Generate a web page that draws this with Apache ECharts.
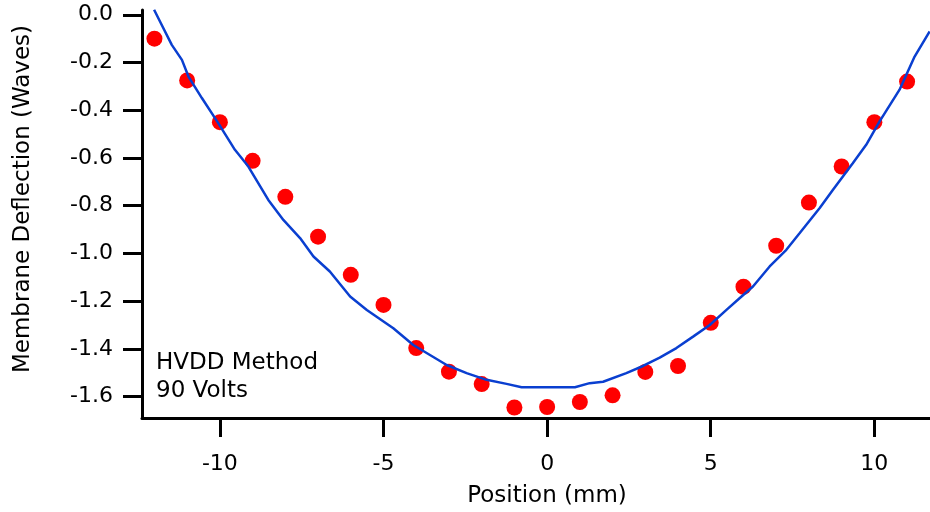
<!DOCTYPE html>
<html>
<head>
<meta charset="utf-8">
<script src="https://cdn.jsdelivr.net/npm/echarts@6/dist/echarts.min.js"></script>
<style>
html,body{margin:0;padding:0;background:#fff;}
#chart{width:930px;height:512px;}
</style>
</head>
<body>
<div id="chart"></div>
<script>
// Measured points (red dots)
const dotX = [-12,-11,-10,-9,-8,-7,-6,-5,-4,-3,-2,-1,0,1,2,3,4,5,6,7,8,9,10,11];
const dotY = [-0.10,-0.275,-0.45,-0.612,-0.763,-0.93,-1.09,-1.216,-1.397,-1.496,-1.548,-1.646,-1.644,-1.623,-1.595,-1.497,-1.472,-1.291,-1.14,-0.968,-0.787,-0.636,-0.45,-0.28];

// Fitted curve (blue line)
const lineX = [-12.01,-11.83,-11.47,-11.16,-10.96,-10.55,-10.05,-9.54,-9.13,-8.52,-8.06,-7.55,-7.14,-6.64,-6.02,-5.51,-4.70,-4.09,-3.58,-3.07,-2.46,-1.85,-1.24,-0.78,0.39,0.85,1.30,1.71,2.42,2.93,3.44,3.95,4.46,4.97,5.48,5.88,6.29,6.80,7.31,7.72,8.33,8.73,9.34,9.75,10.16,10.77,11.23,11.69];
const lineY = [0.021,-0.028,-0.126,-0.189,-0.259,-0.349,-0.454,-0.566,-0.636,-0.776,-0.860,-0.936,-1.013,-1.076,-1.181,-1.237,-1.314,-1.384,-1.426,-1.468,-1.502,-1.530,-1.547,-1.561,-1.561,-1.561,-1.544,-1.538,-1.502,-1.472,-1.437,-1.397,-1.349,-1.300,-1.237,-1.188,-1.139,-1.055,-0.985,-0.915,-0.810,-0.734,-0.622,-0.545,-0.447,-0.314,-0.175,-0.070];

const xTicks = [-10,-5,0,5,10];
const yTicks = [0,-0.2,-0.4,-0.6,-0.8,-1.0,-1.2,-1.4,-1.6];

const xName = 'Position (mm)';
const yName = 'Membrane Deflection (Waves)';
const noteLines = ['HVDD Method','90 Volts'];

const FONT = '"DejaVu Sans", sans-serif';

const chart = echarts.init(document.getElementById('chart'), null, {renderer:'canvas'});
const option = {
  backgroundColor:'#fff',
  animation:false,
  grid:{left:142,right:0,top:10,bottom:94,containLabel:false},
  xAxis:{
    type:'value', min:-12.38, max:11.7,
    axisLine:{show:true,onZero:false,lineStyle:{color:'#000',width:3}},
    axisTick:{show:true,inside:false,length:19,lineStyle:{color:'#000',width:3},customValues:xTicks},
    axisLabel:{show:true,margin:35,color:'#000',fontSize:22,fontFamily:FONT,customValues:xTicks,
      formatter:v=>String(v)},
    splitLine:{show:false}
  },
  yAxis:{
    type:'value', min:-1.69, max:0.02,
    axisLine:{show:true,onZero:false,lineStyle:{color:'#000',width:3}},
    axisTick:{show:true,inside:false,length:19,lineStyle:{color:'#000',width:3},customValues:yTicks},
    axisLabel:{show:true,margin:29,color:'#000',fontSize:22,fontFamily:FONT,customValues:yTicks,
      formatter:v=>Number(v).toFixed(1)},
    splitLine:{show:false}
  },
  series:[
    {type:'scatter',data:dotX.map((x,i)=>[x,dotY[i]]),symbol:'circle',symbolSize:16,
     itemStyle:{color:'#ff0000',opacity:1},z:2,clip:true},
    {type:'line',data:lineX.map((x,i)=>[x,lineY[i]]),showSymbol:false,symbol:'none',
     lineStyle:{color:'#0a3fd0',width:2.5},z:3,clip:true,smooth:false}
  ],
  graphic:[
    {type:'text',x:547,y:496,style:{text:xName,fontSize:23,fontFamily:FONT,fill:'#000',align:'center',verticalAlign:'middle'}},
    {type:'text',x:23,y:199,rotation:Math.PI/2,style:{text:yName,fontSize:23,fontFamily:FONT,fill:'#000',align:'center',verticalAlign:'middle'}},
    {type:'text',x:156,y:363,style:{text:noteLines[0],fontSize:23,fontFamily:FONT,fill:'#000',align:'left',verticalAlign:'middle'}},
    {type:'text',x:156,y:391,style:{text:noteLines[1],fontSize:23,fontFamily:FONT,fill:'#000',align:'left',verticalAlign:'middle'}}
  ]
};
chart.setOption(option);
</script>
</body>
</html>
